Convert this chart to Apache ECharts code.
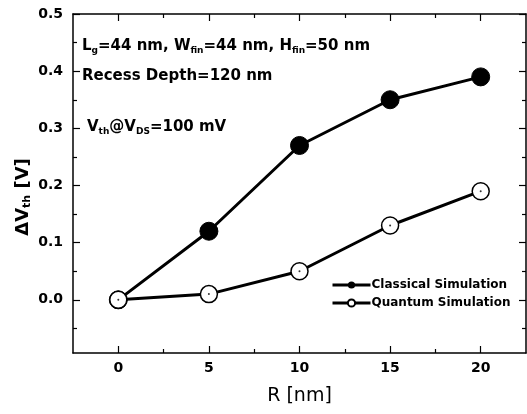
<!DOCTYPE html>
<html>
<head>
<meta charset="utf-8">
<script src="https://cdn.jsdelivr.net/npm/echarts@6/dist/echarts.min.js"></script>
<style>
  html, body { margin: 0; padding: 0; background: #fff; }
  #chart { width: 527px; height: 414px; }
</style>
</head>
<body>
<div id="chart"></div>
<script>
// data
const rValues = [0, 5, 10, 15, 20];
const classical = [0, 0.12, 0.27, 0.35, 0.39];
const quantum = [0, 0.01, 0.05, 0.13, 0.19];
const seriesNames = ["Classical Simulation", "Quantum Simulation"];

// tick positions
const xMajor = [0, 5, 10, 15, 20];
const xMinor = [2.5, 7.5, 12.5, 17.5];
const yMajor = [0, 0.1, 0.2, 0.3, 0.4, 0.5];
const yMinor = [-0.05, 0.05, 0.15, 0.25, 0.35, 0.45];

const font = "DejaVu Sans, Liberation Sans, sans-serif";
const pairs = (ys) => rValues.map((x, i) => [x, ys[i]]);

// one frame axis (line + major ticks) or an overlay with only minor ticks
function frameAxis(pos, range, ticks, len, showLine, label) {
  return {
    type: "value", position: pos, min: range[0], max: range[1],
    axisLine: { show: showLine, onZero: false, lineStyle: { color: "#000", width: 1.5 } },
    axisTick: { show: true, inside: true, length: len, customValues: ticks, lineStyle: { color: "#000", width: 1.2 } },
    axisLabel: label || { show: false, customValues: ticks },
    splitLine: { show: false }
  };
}
const xRange = [-2.5, 22.5];
const yRange = [-0.093, 0.5];

let xBottom = frameAxis("bottom", xRange, xMajor, 7, true, {
  customValues: xMajor, fontFamily: font, fontWeight: "bold", fontSize: 14, color: "#000", margin: 8
});
xBottom.name = "R [nm]";
xBottom.nameLocation = "middle";
xBottom.nameGap = 34;
xBottom.nameTextStyle = { fontFamily: font, fontSize: 19, color: "#000" };

let yLeft = frameAxis("left", yRange, yMajor, 7, true, {
  customValues: yMajor, fontFamily: font, fontWeight: "bold", fontSize: 14, color: "#000", margin: 10,
  formatter: (v) => v.toFixed(1)
});

let myCharts = echarts.init(document.getElementById("chart"));
myCharts.setOption({
  animation: false,
  backgroundColor: "#fff",
  grid: { left: 73, right: 1, top: 14, bottom: 61, outerBoundsMode: "none" },
  xAxis: [
    xBottom,
    frameAxis("bottom", xRange, xMinor, 4, false),
    frameAxis("top", xRange, xMajor, 7, true),
    frameAxis("top", xRange, xMinor, 4, false)
  ],
  yAxis: [
    yLeft,
    frameAxis("left", yRange, yMinor, 4, false),
    frameAxis("right", yRange, yMajor, 7, true),
    frameAxis("right", yRange, yMinor, 4, false)
  ],
  legend: {
    orient: "vertical", left: 326, top: 274, itemGap: 6,
    itemWidth: 38, itemHeight: 9,
    lineStyle: { width: 3 },
    textStyle: { fontFamily: font, fontWeight: "bold", fontSize: 12, color: "#000", padding: [0, 0, 0, -4] },
    data: seriesNames
  },
  series: [
    {
      name: seriesNames[0], type: "line", data: pairs(classical),
      symbol: "circle", symbolSize: 18,
      lineStyle: { color: "#000", width: 3 },
      itemStyle: { color: "#000", borderColor: "#000" },
      z: 3
    },
    {
      name: seriesNames[1], type: "line", data: pairs(quantum),
      symbol: "circle", symbolSize: 17,
      lineStyle: { color: "#000", width: 3 },
      itemStyle: { color: "#fff", borderColor: "#000", borderWidth: 1.5 },
      z: 3
    },
    {
      // centre dots of the open circles
      type: "scatter", data: pairs(quantum), symbolSize: 2,
      itemStyle: { color: "#000" }, z: 5, silent: true
    }
  ],
  graphic: [
    {
      // y axis title, sits a little below the axis middle as in the figure
      type: "text", x: 23, y: 197, rotation: Math.PI / 2,
      style: {
        text: "ΔV{s|th} [V]", align: "center", verticalAlign: "middle",
        font: "bold 18px " + font, fill: "#000",
        rich: { s: { font: "bold 11px " + font, fill: "#000", padding: [9, 0, 0, 0] } }
      }
    },
    {
      type: "text", left: 82, top: 39,
      style: {
        text: "L{s|g}=44 nm, W{s|fin}=44 nm, H{s|fin}=50 nm",
        font: "bold 15px " + font, fill: "#000",
        rich: { s: { font: "bold 9px " + font, fill: "#000", padding: [9, 0, 0, 0] } }
      }
    },
    {
      type: "text", left: 82, top: 69,
      style: { text: "Recess Depth=120 nm", font: "bold 15px " + font, fill: "#000" }
    },
    {
      type: "text", left: 87, top: 120,
      style: {
        text: "V{s|th}@V{s|DS}=100 mV",
        font: "bold 15px " + font, fill: "#000",
        rich: { s: { font: "bold 9px " + font, fill: "#000", padding: [9, 0, 0, 0] } }
      }
    }
  ]
});
</script>
</body>
</html>
